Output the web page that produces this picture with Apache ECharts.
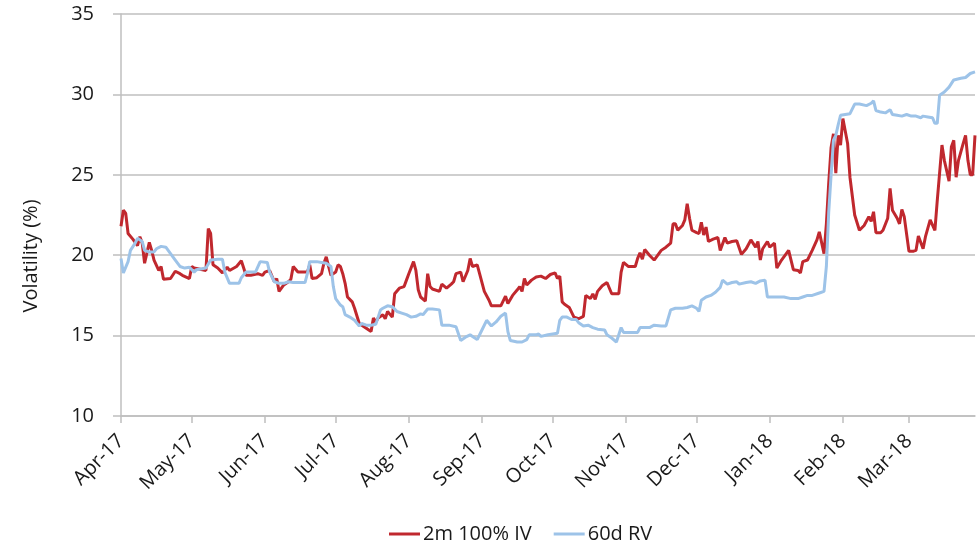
<!DOCTYPE html>
<html lang="en">
<head>
    <meta charset="UTF-8">
    <script type="text/javascript" src="https://cdn.jsdelivr.net/npm/echarts@6/dist/echarts.min.js"></script>
    <title>Volatility</title>
    <style>
        html, body { margin: 0; padding: 0; background: #fff; }
    </style>
</head>
<body>
<div id="volChart" style="width: 980px;height:545px;"></div>
<script type="text/javascript">
    // month names for the x axis labels
    var monthNames = ['Jan','Feb','Mar','Apr','May','Jun','Jul','Aug','Sep','Oct','Nov','Dec'];
    var seriesNames = ['2m 100% IV', '60d RV'];

    // 2m 100% IV
    var ivDates = [
        '2017-04-01','2017-04-02','2017-04-03','2017-04-04','2017-04-06','2017-04-08','2017-04-09','2017-04-10','2017-04-11','2017-04-13','2017-04-14','2017-04-15','2017-04-17','2017-04-18','2017-04-19','2017-04-22','2017-04-24','2017-04-26','2017-04-27','2017-04-30',
        '2017-05-01','2017-05-02','2017-05-07','2017-05-08','2017-05-09','2017-05-10','2017-05-12','2017-05-14','2017-05-16','2017-05-17','2017-05-20','2017-05-22','2017-05-24','2017-05-26','2017-05-29','2017-05-31',
        '2017-06-01','2017-06-03','2017-06-05','2017-06-06','2017-06-07','2017-06-09','2017-06-11','2017-06-12','2017-06-13','2017-06-15','2017-06-17','2017-06-19','2017-06-20','2017-06-21','2017-06-23','2017-06-25','2017-06-26','2017-06-27','2017-06-28','2017-06-29',
        '2017-07-01','2017-07-02','2017-07-03','2017-07-04','2017-07-05','2017-07-06','2017-07-08','2017-07-09','2017-07-11','2017-07-13','2017-07-16','2017-07-17','2017-07-18','2017-07-19','2017-07-21','2017-07-22','2017-07-23','2017-07-25','2017-07-26','2017-07-28','2017-07-30','2017-07-31',
        '2017-08-01','2017-08-03','2017-08-04','2017-08-05','2017-08-06','2017-08-08','2017-08-09','2017-08-10','2017-08-11','2017-08-14','2017-08-15','2017-08-17','2017-08-19','2017-08-20','2017-08-21','2017-08-23','2017-08-24','2017-08-26','2017-08-27','2017-08-28','2017-08-30','2017-08-31',
        '2017-09-02','2017-09-04','2017-09-05','2017-09-09','2017-09-11','2017-09-12','2017-09-14','2017-09-16','2017-09-17','2017-09-18','2017-09-19','2017-09-20','2017-09-22','2017-09-24','2017-09-26','2017-09-28','2017-09-30',
        '2017-10-02','2017-10-03','2017-10-04','2017-10-05','2017-10-06','2017-10-08','2017-10-10','2017-10-12','2017-10-14','2017-10-15','2017-10-17','2017-10-18','2017-10-19','2017-10-20','2017-10-22','2017-10-24','2017-10-26','2017-10-29','2017-10-30','2017-10-31',
        '2017-11-02','2017-11-05','2017-11-06','2017-11-07','2017-11-08','2017-11-09','2017-11-11','2017-11-13','2017-11-14','2017-11-16','2017-11-18','2017-11-20','2017-11-21','2017-11-22','2017-11-23','2017-11-25','2017-11-26','2017-11-27','2017-11-28','2017-11-29',
        '2017-12-01','2017-12-02','2017-12-03','2017-12-04','2017-12-05','2017-12-06','2017-12-08','2017-12-10','2017-12-11','2017-12-13','2017-12-14','2017-12-16','2017-12-18','2017-12-20','2017-12-22','2017-12-24','2017-12-26','2017-12-27','2017-12-28','2017-12-29','2017-12-31',
        '2018-01-01','2018-01-03','2018-01-04','2018-01-06','2018-01-09','2018-01-11','2018-01-13','2018-01-14','2018-01-15','2018-01-17','2018-01-19','2018-01-21','2018-01-22','2018-01-24','2018-01-25','2018-01-26','2018-01-27','2018-01-28','2018-01-29','2018-01-30','2018-01-31',
        '2018-02-01','2018-02-03','2018-02-04','2018-02-06','2018-02-08','2018-02-10','2018-02-12','2018-02-13','2018-02-14','2018-02-15','2018-02-17','2018-02-18','2018-02-20','2018-02-21','2018-02-22','2018-02-24','2018-02-25','2018-02-26','2018-02-27',
        '2018-03-01','2018-03-03','2018-03-04','2018-03-05','2018-03-07','2018-03-08','2018-03-10','2018-03-12','2018-03-13','2018-03-15','2018-03-16','2018-03-18','2018-03-19','2018-03-20','2018-03-21','2018-03-22','2018-03-24','2018-03-25','2018-03-26','2018-03-27','2018-03-28','2018-03-29'
    ];
    var ivValues = [
        21.8,22.8,22.6,21.35,21.0,20.6,21.15,20.75,19.5,20.8,20.3,19.7,19.05,19.3,18.5,18.55,19.0,18.85,18.75,18.55,
        19.3,19.2,19.05,21.65,21.35,19.4,19.2,18.9,19.25,19.05,19.3,19.65,18.75,18.75,18.85,18.75,
        18.95,19.05,18.35,18.55,17.75,18.15,18.35,18.5,19.3,18.95,18.95,18.95,19.4,18.55,18.6,18.85,19.5,19.9,19.3,18.75,
        18.95,19.4,19.3,18.85,18.25,17.4,17.1,16.7,15.75,15.55,15.25,16.1,15.85,16.1,16.3,16.05,16.5,16.15,17.6,17.95,18.05,18.45,
        18.85,19.6,19.05,17.85,17.4,17.15,18.85,18.05,17.9,17.75,18.2,17.95,18.2,18.35,18.85,18.95,18.35,19.05,19.8,19.3,19.4,18.85,
        17.75,17.2,16.85,16.85,17.45,17.0,17.5,17.85,18.05,17.75,18.55,18.15,18.45,18.65,18.7,18.55,18.8,
        18.9,18.55,18.7,17.1,16.95,16.75,16.15,16.05,16.2,17.5,17.3,17.6,17.25,17.75,18.1,18.3,17.6,17.6,18.95,19.55,
        19.3,19.3,19.8,20.15,19.75,20.35,20.0,19.7,19.9,20.3,20.5,20.75,21.95,21.95,21.55,21.85,22.2,23.2,22.3,21.55,
        21.4,21.35,22.05,21.25,21.75,20.85,21.0,21.1,20.3,21.1,20.75,20.85,20.9,20.05,20.4,20.95,20.5,20.85,19.7,20.4,20.85,
        20.5,20.75,19.2,19.7,20.3,19.1,19.05,18.9,19.6,19.7,20.3,20.95,21.45,20.1,21.95,24.5,26.7,27.55,25.1,27.45,26.85,
        28.5,26.95,24.85,22.5,21.55,21.85,22.4,22.1,22.7,21.4,21.4,21.55,22.3,24.15,22.8,22.3,21.95,22.85,22.4,
        20.25,20.25,20.3,21.2,20.4,21.15,22.2,21.55,23.4,26.85,25.9,24.6,26.75,27.15,24.85,25.9,26.95,27.45,25.9,25.0,25.0,27.45
    ];

    // 60d RV
    var rvDates = [
        '2017-04-01','2017-04-02','2017-04-04','2017-04-05','2017-04-07','2017-04-08','2017-04-10','2017-04-11','2017-04-13','2017-04-15','2017-04-16','2017-04-18','2017-04-20','2017-04-22','2017-04-24','2017-04-26','2017-04-28','2017-04-30',
        '2017-05-02','2017-05-03','2017-05-07','2017-05-09','2017-05-12','2017-05-14','2017-05-15','2017-05-17','2017-05-21','2017-05-22','2017-05-24','2017-05-28','2017-05-30',
        '2017-06-02','2017-06-03','2017-06-05','2017-06-07','2017-06-09','2017-06-11','2017-06-13','2017-06-18','2017-06-19','2017-06-20','2017-06-23','2017-06-25','2017-06-27','2017-06-29','2017-06-30',
        '2017-07-01','2017-07-03','2017-07-04','2017-07-05','2017-07-07','2017-07-09','2017-07-11','2017-07-12','2017-07-14','2017-07-16','2017-07-18','2017-07-20','2017-07-21','2017-07-23','2017-07-25','2017-07-27','2017-07-29','2017-07-31',
        '2017-08-02','2017-08-04','2017-08-06','2017-08-07','2017-08-09','2017-08-11','2017-08-14','2017-08-15','2017-08-18','2017-08-21','2017-08-23','2017-08-25','2017-08-27','2017-08-28','2017-08-30',
        '2017-09-01','2017-09-03','2017-09-05','2017-09-07','2017-09-09','2017-09-11','2017-09-12','2017-09-13','2017-09-16','2017-09-18','2017-09-20','2017-09-21','2017-09-24','2017-09-25','2017-09-26','2017-09-29',
        '2017-10-01','2017-10-03','2017-10-04','2017-10-05','2017-10-07','2017-10-09','2017-10-11','2017-10-12','2017-10-14','2017-10-16','2017-10-18','2017-10-20','2017-10-23','2017-10-24','2017-10-26','2017-10-28','2017-10-30','2017-10-31',
        '2017-11-03','2017-11-06','2017-11-07','2017-11-11','2017-11-13','2017-11-16','2017-11-18','2017-11-20','2017-11-22','2017-11-25','2017-11-27','2017-11-29',
        '2017-12-01','2017-12-02','2017-12-03','2017-12-05','2017-12-07','2017-12-09','2017-12-11','2017-12-12','2017-12-14','2017-12-16','2017-12-18','2017-12-19','2017-12-22','2017-12-24','2017-12-26','2017-12-28','2017-12-30','2017-12-31',
        '2018-01-02','2018-01-04','2018-01-07','2018-01-10','2018-01-13','2018-01-15','2018-01-17','2018-01-19','2018-01-22','2018-01-24','2018-01-25','2018-01-26','2018-01-27','2018-01-28','2018-01-29','2018-01-30','2018-01-31',
        '2018-02-02','2018-02-04','2018-02-06','2018-02-08','2018-02-11','2018-02-13','2018-02-14','2018-02-15','2018-02-17','2018-02-19','2018-02-21','2018-02-22','2018-02-24','2018-02-26','2018-02-28',
        '2018-03-02','2018-03-04','2018-03-06','2018-03-07','2018-03-09','2018-03-11','2018-03-12','2018-03-13','2018-03-14','2018-03-16','2018-03-18','2018-03-20','2018-03-23','2018-03-25','2018-03-27','2018-03-29'
    ];
    var rvValues = [
        19.8,18.9,19.6,20.3,20.75,21.05,20.85,20.3,20.2,20.2,20.4,20.55,20.5,20.1,19.7,19.3,19.2,19.25,
        18.95,19.1,19.2,19.7,19.75,19.75,18.95,18.25,18.25,18.6,18.95,18.95,19.6,
        19.55,18.95,18.35,18.25,18.25,18.35,18.3,18.3,18.85,19.6,19.6,19.55,19.5,19.3,18.05,
        17.3,16.9,16.8,16.3,16.15,15.95,15.6,15.75,15.65,15.65,15.7,16.6,16.7,16.85,16.8,16.5,16.4,16.3,
        16.15,16.2,16.35,16.3,16.65,16.65,16.6,15.65,15.65,15.55,14.7,14.9,15.05,14.95,14.75,
        15.35,15.95,15.6,15.85,16.2,16.4,15.25,14.7,14.6,14.6,14.75,15.05,15.05,15.1,14.95,15.05,
        15.1,15.15,15.95,16.15,16.15,16.0,16.0,15.8,15.6,15.65,15.5,15.4,15.35,15.05,14.85,14.6,15.5,15.2,
        15.2,15.2,15.5,15.5,15.65,15.6,15.6,16.6,16.7,16.7,16.75,16.85,
        16.7,16.5,17.2,17.4,17.5,17.7,18.0,18.45,18.2,18.3,18.35,18.2,18.3,18.35,18.25,18.4,18.45,17.4,
        17.4,17.4,17.4,17.3,17.3,17.4,17.5,17.5,17.65,17.75,19.3,22.7,25.0,27.15,27.45,28.1,28.7,
        28.75,28.8,29.4,29.4,29.3,29.45,29.6,29.0,28.9,28.85,29.05,28.75,28.7,28.65,28.75,
        28.65,28.65,28.55,28.65,28.6,28.55,28.2,28.2,29.95,30.15,30.45,30.9,31.0,31.05,31.3,31.4
    ];

    var yTicks = [10, 15, 20, 25, 30, 35];

    function pairs(dates, values) {
        return dates.map(function (d, i) { return [d, values[i]]; });
    }

    var DAY = 24 * 3600 * 1000;
    var FONT = '"Open Sans", "Noto Sans", sans-serif';
    var GRID_GRAY = '#bfbfbf';

    var volChart = echarts.init(document.getElementById('volChart'));
    volChart.setOption({
        animation: false,
        backgroundColor: '#fff',
        textStyle: { fontFamily: FONT },
        grid: { left: 121, right: 5, top: 14, bottom: 129 },
        legend: {
            data: seriesNames,
            left: 384,
            top: 519,
            icon: 'rect',
            itemWidth: 31,
            itemHeight: 3,
            itemGap: 22,
            textStyle: { fontFamily: FONT, fontSize: 20, color: '#1a1a1a', padding: [0, 0, 0, -2] }
        },
        graphic: [{
            type: 'text',
            x: 31,
            y: 256,
            rotation: Math.PI / 2,
            style: {
                text: 'Volatility (%)',
                fontFamily: FONT,
                fontSize: 20,
                fill: '#1a1a1a',
                align: 'center',
                verticalAlign: 'middle'
            }
        }],
        xAxis: {
            type: 'time',
            min: '2017-04-01',
            max: '2018-03-29',
            minInterval: 28 * DAY,
            maxInterval: 31 * DAY,
            axisLine: { lineStyle: { color: GRID_GRAY, width: 1.5 } },
            axisTick: { show: true, length: 7, lineStyle: { color: GRID_GRAY, width: 1.5 } },
            splitLine: { show: false },
            axisLabel: {
                rotate: 45,
                margin: 22,
                fontFamily: FONT,
                fontSize: 20,
                color: '#1a1a1a',
                formatter: function (val) {
                    var d = new Date(val);
                    return monthNames[d.getMonth()] + '-' + String(d.getFullYear()).slice(2);
                }
            }
        },
        yAxis: {
            type: 'value',
            min: yTicks[0],
            max: yTicks[yTicks.length - 1],
            interval: 5,
            axisLine: { show: true, lineStyle: { color: GRID_GRAY, width: 1.5 } },
            axisTick: { show: true, length: 8, lineStyle: { color: GRID_GRAY, width: 1.5 } },
            splitLine: { lineStyle: { color: GRID_GRAY, width: 1.5 } },
            axisLabel: { margin: 27, fontFamily: FONT, fontSize: 20, color: '#1a1a1a' }
        },
        series: [{
            name: seriesNames[0],
            type: 'line',
            showSymbol: false,
            color: '#c0282e',
            lineStyle: { width: 3, color: '#c0282e' },
            data: pairs(ivDates, ivValues)
        }, {
            name: seriesNames[1],
            type: 'line',
            showSymbol: false,
            color: '#9dc3e8',
            lineStyle: { width: 3, color: '#9dc3e8' },
            data: pairs(rvDates, rvValues)
        }]
    });
</script>
</body>
</html>
